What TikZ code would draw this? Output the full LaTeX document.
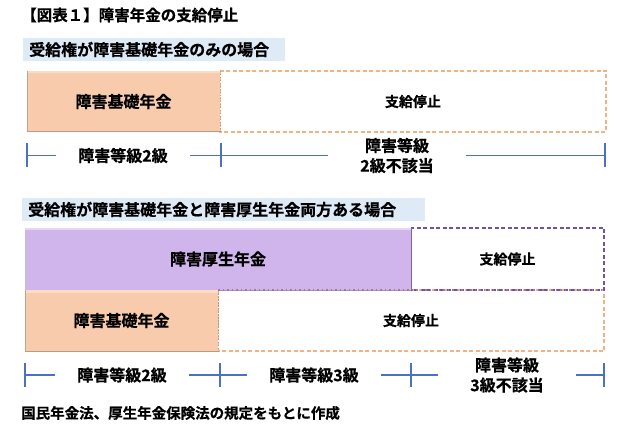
\documentclass[tikz,border=0pt]{standalone}
\usepackage{fontspec}
\setmainfont{Noto Sans CJK JP Bold}[FakeBold=0.6]
\definecolor{orfill}{HTML}{F8CBAD}
\definecolor{ortop}{HTML}{FBDCC6}
\definecolor{oredge}{HTML}{B89A86}
\definecolor{ordash}{HTML}{F4B183}
\definecolor{pufill}{HTML}{CFB5EC}
\definecolor{putop}{HTML}{E6D6F6}
\definecolor{puedge}{HTML}{8064A2}
\definecolor{pudash}{HTML}{7050A8}
\definecolor{secbg}{HTML}{DEEAF6}
\definecolor{tick}{HTML}{4A72C0}
\tikzset{
  txt/.style={font=\fontsize{16}{20}\selectfont, text=black, inner sep=0pt, align=center},
  small/.style={font=\fontsize{14}{18}\selectfont, text=black, inner sep=0pt},
  secbox/.style={fill=secbg, draw=none},
  dashbox/.style={line width=1.3pt, dash pattern=on 4pt off 2.5pt},
  tk/.style={draw=tick, line width=1.1pt},
  blab/.style={txt, fill=white, inner xsep=22pt}
}
\begin{document}
\begin{tikzpicture}[x=1pt,y=-1pt]
\useasboundingbox (0,0) rectangle (626,427);
\fill[white] (0,0) rectangle (626,427);

% title
\node[txt, anchor=west, font=\fontsize{15.5}{18}\selectfont] (title) at (21,15) {【図表１】障害年金の支給停止};

% section 1
\fill[secbox] (23,38) rectangle (285,61);
\node[txt, anchor=west] (sec1) at (29,49.5) {受給権が障害基礎年金のみの場合};

% row 1 boxes
\draw[ordash, dashbox] (220,71) rectangle (606,132);
\fill[orfill] (27,71) rectangle (220,132);
\fill[ortop] (27,71) rectangle (220,73.5);
\draw[oredge, line width=1pt] (27,132) -- (220,132);
\draw[oredge, line width=1pt, dash pattern=on 1.5pt off 1.5pt] (220,71) -- (220,132);
\draw[orfill!80!black, line width=0.6pt] (27,71) -- (27,132);
\node[txt] (kiso1) at (123.5,101.5) {障害基礎年金};
\node[small] (stop1) at (413,101.5) {支給停止};

% row 1 bracket
\coordinate (a0) at (27,155.5);
\coordinate (a1) at (221,155.5);
\coordinate (a2) at (605,155.5);
\node[blab] (g2a) at (123,155.5) {障害等級2級};
\node[blab, inner xsep=32pt] (n2a) at (397,155.5) {障害等級\\2級不該当};
\foreach \c in {a0,a1,a2} \draw[tk] ([yshift=-12pt]\c) -- ([yshift=12pt]\c);
\draw[tk] (a0) -- (g2a.west);
\draw[tk] (g2a.east) -- (a1) -- (n2a.west);
\draw[tk] (n2a.east) -- (a2);

% section 2
\fill[secbox] (22,198) rectangle (425,221);
\node[txt, anchor=west] (sec2) at (28,209.5) {受給権が障害基礎年金と障害厚生年金両方ある場合};

% row 2 boxes
\draw[ordash, dashbox] (218,290) rectangle (604,351);
\draw[pudash, dashbox] (411,228) rectangle (604,290);
\fill[pufill] (25,228) rectangle (411,290);
\fill[putop] (25,228) rectangle (411,230.5);
\draw[puedge, line width=1pt] (411,228) -- (411,290);
\draw[puedge!70, line width=0.8pt] (25,290) -- (411,290);
\node[txt] (kosei) at (218,259) {障害厚生年金};
\node[small] (stop2) at (507.5,259) {支給停止};

\fill[orfill] (25,290.5) rectangle (218,351);
\fill[ortop] (25,290.5) rectangle (218,293);
\draw[oredge, line width=1pt] (25,351) -- (218,351);
\draw[oredge, line width=1pt, dash pattern=on 1.5pt off 1.5pt] (218,290.5) -- (218,351);
\draw[orfill!80!black, line width=0.6pt] (25,290.5) -- (25,351);
\node[txt] (kiso2) at (121.5,320.5) {障害基礎年金};
\node[small] (stop3) at (411,320.5) {支給停止};
\draw[pudash!60!ordash, line width=1.2pt, dash pattern=on 1.5pt off 3pt] (218,290) -- (604,290);

% row 2 bracket
\coordinate (b0) at (25,375);
\coordinate (b1) at (220,375);
\coordinate (b2) at (411,375);
\coordinate (b3) at (604,375);
\node[blab] (g2b) at (122,375) {障害等級2級};
\node[blab] (g3b) at (314,375) {障害等級3級};
\node[blab, inner xsep=32pt] (n3b) at (507,375) {障害等級\\3級不該当};
\foreach \c in {b0,b1,b2,b3} \draw[tk] ([yshift=-12pt]\c) -- ([yshift=12pt]\c);
\draw[tk] (b0) -- (g2b.west);
\draw[tk] (g2b.east) -- (b1) -- (g3b.west);
\draw[tk] (g3b.east) -- (b2) -- (n3b.west);
\draw[tk] (n3b.east) -- (b3);

% footnote
\node[txt, anchor=west, font=\fontsize{14.5}{18}\selectfont] (foot) at (21,413) {国民年金法、厚生年金保険法の規定をもとに作成};
\end{tikzpicture}
\end{document}
